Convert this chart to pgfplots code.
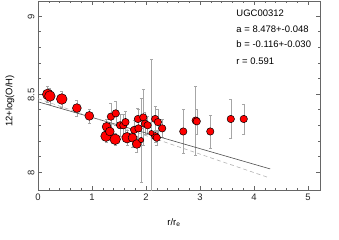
\documentclass[border=0pt]{standalone}
\usepackage{fontspec}
\setmainfont{Liberation Sans}
\usepackage{pgfplots}
\pgfplotsset{compat=1.18}
\usepackage{pgfplotstable}

\pgfplotstableread{
x y e
0.18 8.498 0.05
0.22 8.487 0.05
0.44 8.468 0.05
0.72 8.41 0.05
0.95 8.36 0.045
1.27 8.29 0.05
1.33 8.26 0.05
1.26 8.23 0.04
1.43 8.21 0.04
1.35 8.355 0.085
1.44 8.376 0.075
1.52 8.30 0.07
1.58 8.30 0.07
1.62 8.32 0.07
1.65 8.22 0.05
1.75 8.22 0.06
1.78 8.27 0.06
1.86 8.28 0.12
1.85 8.34 0.07
1.95 8.35 0.18
1.98 8.31 0.07
2.03 8.30 0.06
1.83 8.18 0.05
1.91 8.205 0.27
2.10 8.25 0.47
2.17 8.34 0.08
2.22 8.32 0.08
2.30 8.28 0.06
2.17 8.23 0.04
2.20 8.22 0.05
2.69 8.26 0.14
2.92 8.33 0.22
2.94 8.325 0.08
3.19 8.26 0.105
3.57 8.34 0.125
3.81 8.34 0.095
}\errdata

\pgfplotstableread{
x y
0.18 8.498
0.22 8.487
0.44 8.468
1.26 8.23
1.43 8.21
1.65 8.22
}\large

\pgfplotstableread{
x y
0.72 8.41
0.95 8.36
1.27 8.29
1.33 8.26
1.75 8.22
1.83 8.18
}\mlarge

\pgfplotstableread{
x y
1.35 8.355
1.44 8.376
1.52 8.30
1.58 8.30
1.62 8.32
1.78 8.27
1.86 8.28
1.85 8.34
1.95 8.35
1.98 8.31
2.03 8.30
2.17 8.34
2.22 8.32
2.30 8.28
2.17 8.23
2.20 8.22
2.69 8.26
2.92 8.33
2.94 8.325
3.19 8.26
3.57 8.34
3.81 8.34
}\medium

\pgfplotstableread{
x y
1.91 8.205
2.10 8.25
}\small

\pgfplotstableread{
x y
0 8.45
4.3 8.02
}\fitsolid

\pgfplotstableread{
x y
0 8.47
4.25 7.967
}\fitdashed

\begin{document}
\begin{tikzpicture}
\useasboundingbox (-38bp,-50bp) rectangle (301bp,190bp);
\begin{axis}[
  at={(0,0)}, anchor=south west,
  scale only axis, width=282bp, height=189bp,
  xmin=0, xmax=5.222, ymin=7.885, ymax=9.096,
  xtick={0,1,2,3,4,5}, ytick={8,8.5,9},
  yticklabels={8,8.5,9},
  minor x tick num=4, minor y tick num=4,
  major tick length=4bp, minor tick length=2.5bp,
  axis line style={black!60, line width=0.5pt},
  every tick/.style={black!60, line width=0.5pt},
  tick label style={font=\fontsize{9.5}{11}\selectfont, text=black!85},
  /pgf/number format/assume math mode=true,
  yticklabel style={rotate=90, anchor=south, xshift=-1bp},
  xlabel={r/r\textsubscript{e}},
  ylabel={12+log(O/H)},
  xlabel style={at={(rel axis cs:0.482,-0.188)}, anchor=base, font=\fontsize{9.5}{11}\selectfont},
  ylabel style={at={(rel axis cs:-0.0993,0.471)}, anchor=center, rotate=0, font=\fontsize{9.5}{11}\selectfont},
  clip=true,
]
\addplot[draw=none, mark=none, forget plot,
  error bars/.cd, y dir=both, y explicit,
  error bar style={draw=black!35, line width=0.5pt},
  error mark options={draw=black!35, rotate=90, mark size=1.5bp, line width=0.5pt}]
  table[x=x, y=y, y error=e]{\errdata};
\addplot[color=black!70, line width=0.6pt] table{\fitsolid};
\addplot[color=black!30, line width=0.6pt, dash pattern=on 4bp off 3bp] table{\fitdashed};
\addplot[only marks, mark=*, mark size=5.3bp, mark options={fill=red, draw=black, line width=0.5pt}] table{\large};
\addplot[only marks, mark=*, mark size=4.4bp, mark options={fill=red, draw=black, line width=0.5pt}] table{\mlarge};
\addplot[only marks, mark=*, mark size=3.7bp, mark options={fill=red, draw=black, line width=0.5pt}] table{\medium};
\addplot[only marks, mark=*, mark size=2.6bp, mark options={fill=red, draw=black, line width=0.5pt}] table{\small};
\node[anchor=base west, font=\fontsize{9.5}{11}\selectfont] at (axis cs:3.61,8.997) {UGC00312};
\node[anchor=base west, font=\fontsize{9.5}{11}\selectfont] at (axis cs:3.61,8.895) {a = 8.478+-0.048};
\node[anchor=base west, font=\fontsize{9.5}{11}\selectfont] at (axis cs:3.61,8.795) {b = -0.116+-0.030};
\node[anchor=base west, font=\fontsize{9.5}{11}\selectfont] at (axis cs:3.61,8.692) {r = 0.591};
\end{axis}
\end{tikzpicture}
\end{document}
